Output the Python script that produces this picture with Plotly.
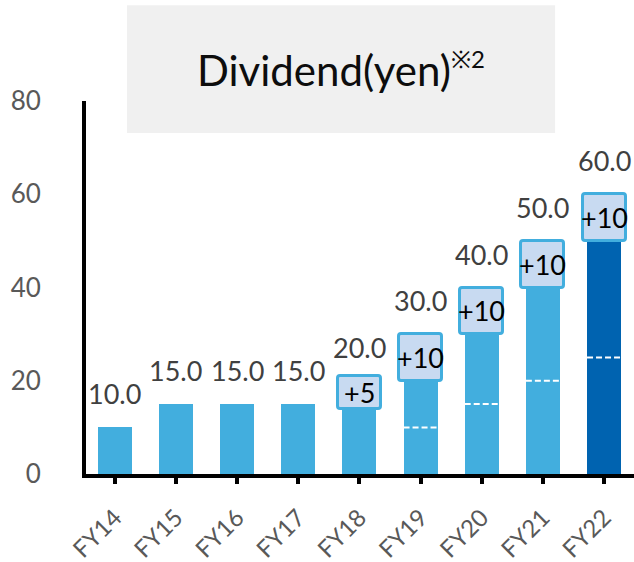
import plotly.graph_objects as go

# Annual dividend per share (yen)
fiscal_years = ["FY14", "FY15", "FY16", "FY17", "FY18", "FY19", "FY20", "FY21", "FY22"]
dividend = [10, 15, 15, 15, 20, 30, 40, 50, 60]
increase = [0, 0, 0, 0, 5, 10, 10, 10, 10]
interim = [None, None, None, None, None, 10, 15, 20, 25]
y_ticks = [0, 20, 40, 60, 80]

LIGHT = "#42AEDE"
DARK = "#0063B0"
BOX_FILL = "#C8DAF1"
FONT = "Lato, Open Sans, sans-serif"

n = len(fiscal_years)
idx = list(range(n))
prior = [d - inc for d, inc in zip(dividend, increase)]
colors = [LIGHT] * (n - 1) + [DARK]

BAR_W = 0.556
BOX_W = 0.703
MIN_BOX = 7  # smallest box height in yen so the label fits

fig = go.Figure()

# prior-year level
fig.add_trace(go.Bar(
    x=idx, y=prior, width=BAR_W, marker=dict(color=colors, line=dict(width=0)),
    hoverinfo="skip", showlegend=False,
))

# increase boxes
box_x, box_base, box_h = [], [], []
for i, (d, inc) in enumerate(zip(dividend, increase)):
    if inc > 0:
        h = max(inc, MIN_BOX)
        mid = d - inc / 2
        box_x.append(i)
        box_base.append(mid - h / 2)
        box_h.append(h)
fig.add_trace(go.Bar(
    x=box_x, y=box_h, base=box_base, width=BOX_W,
    marker=dict(color=BOX_FILL, line=dict(color=LIGHT, width=3), cornerradius=3),
    hoverinfo="skip", showlegend=False,
))

annotations = []
for i, (d, inc) in enumerate(zip(dividend, increase)):
    annotations.append(dict(
        x=i, y=d, xref="x", yref="y", text=f"{d:.1f}", showarrow=False,
        yanchor="middle", yshift=33.5, font=dict(family=FONT, size=27, color="#404040"),
    ))
    if inc > 0:
        annotations.append(dict(
            x=i, y=d - inc / 2, xref="x", yref="y", text=f"+{inc}", showarrow=False,
            yanchor="middle", font=dict(family=FONT, size=27, color="#000000"),
        ))

# dashed interim markers
shapes = []
for i, v in enumerate(interim):
    if v is not None:
        shapes.append(dict(
            type="line", xref="x", yref="y", x0=i - BAR_W / 2, x1=i + BAR_W / 2, y0=v, y1=v,
            line=dict(color="white", width=2, dash="6px,3px"), layer="above",
        ))

# title panel
shapes.append(dict(
    type="rect", xref="paper", yref="paper", x0=0.0748, x1=0.856, y0=0.914, y1=1.257,
    fillcolor="#F0F0F0", line=dict(width=0), layer="below",
))
annotations.append(dict(
    xref="paper", yref="paper", x=0.465, y=1.085, showarrow=False,
    text="Dividend(yen)<sup><span style='font-size:24px'>※2</span></sup>",
    xanchor="center", yanchor="middle",
    font=dict(family=FONT, size=42, color="#0D0D0D"),
))

fig.update_layout(
    width=634, height=562,
    margin=dict(l=86, r=0, t=101, b=88, pad=0, autoexpand=False),
    paper_bgcolor="white", plot_bgcolor="white",
    barmode="overlay", bargap=0,
    shapes=shapes, annotations=annotations,
    font=dict(family=FONT),
)
fig.update_xaxes(
    tickmode="array", tickvals=idx, ticktext=fiscal_years, range=[-0.47, 8.49],
    showline=True, linecolor="black", linewidth=4, showgrid=False, zeroline=False,
    ticks="outside", ticklen=6, tickwidth=4, tickcolor="black", tickangle=-45,
    ticklabelstandoff=10, automargin=False,
    tickfont=dict(family=FONT, size=24, color="#595959"),
)
fig.update_yaxes(
    range=[0, 80], tickvals=y_ticks, showline=True, linecolor="black", linewidth=4,
    showgrid=False, zeroline=False, ticks="", ticklabelstandoff=36, automargin=False,
    tickfont=dict(family=FONT, size=26, color="#595959"),
)

fig.write_html("out.html")
